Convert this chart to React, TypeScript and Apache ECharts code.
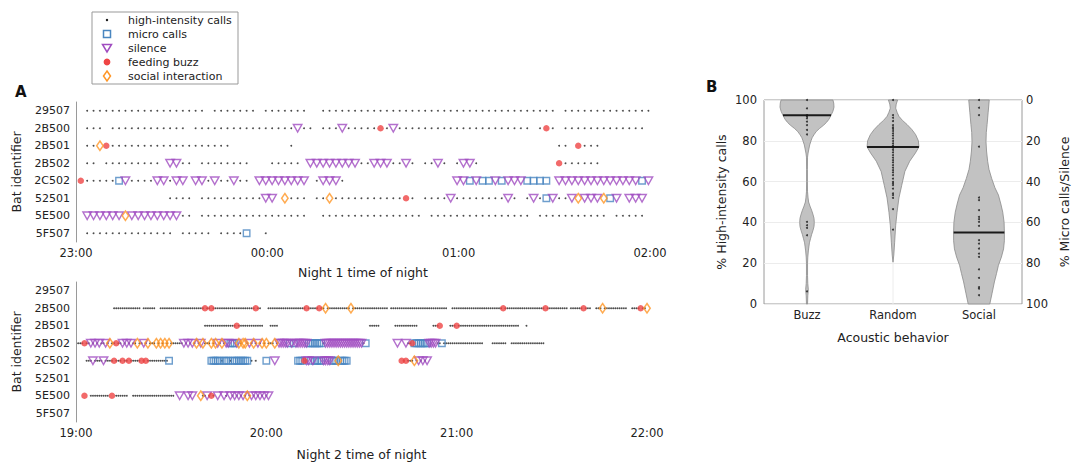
import React, { useEffect, useRef } from "react";
import * as echarts from "echarts";

// ---------------- data ----------------
const BATS = ["29507", "2B500", "2B501", "2B502", "2C502", "52501", "5E500", "5F507"];
const NIGHT1_TICKS = ["23:00", "00:00", "01:00", "02:00"];
const NIGHT2_TICKS = ["19:00", "20:00", "21:00", "22:00"];

// codes: "." high-intensity calls, "m" micro calls, "v" silence, "f" feeding buzz, "s" social interaction
// Night 1: one character per 2-minute record (groups of 10 records = 20 min), first record 1.5 min after 23:00
const N1_SLOT_MIN = 2;
const N1_FIRST_MIN = 1.5;
const N1_GROUP = 10;
const NIGHT1_ROWS: string[][] = [
  [" .........", "..........", " ....... .", "......  ..", "..........", "..........", "..........", "..... ....", ".........."],
  [" ... .....", "....... ..", "..........", "....v.. ..", ".v.....f.v", "..........", "..........", ". .f. ....", "........."],
  [" ..sf.....", "..........", "....", "   .", "", "", "", "     .. f.", ".."],
  [" .. ......", "... vv.. .", ".......", "..... vvvv", "vvvv..vvv.", ".v. ..v. .", "vv.", "     f....", ".."],
  ["f.....mv..", "..vv.vv vv", ".v..v.. vv", "vvvvvv .vv", "v.", "         v", "vmvmmvmvvv", "mmmm vvvvv", "vvvvvvvvmv"],
  ["", "    .... .", ".........v", "v s... ..s", "..........", ".f. ....v.", ".......v.", ".v.mv..vsv", "vvsmv vvv"],
  [" vvvvvvsvv", "vvvvvv.. .", "..........", "......  ..", "..........", ".... .....", "..........", ". ........", "... ....."],
  [" .........", "..... ....", ". ....m  ."],
];

// Night 2: one character per 40-second record (groups of 15 records = 10 min), from 19:00
const N2_SLOT_MIN = 2 / 3;
const N2_FIRST_MIN = 0;
const N2_GROUP = 15;
const NIGHT2_ROWS: string[][] = [
  [],
  ["", "   ............", ". ......  .....", "...............", ".f..f..........", "..........f..  ", " ..............", "....f.....f..s.", "..........s....", "............. .", "...............", "...........  ..", "...............", ".......f.......", "............f..", "........ ......", "f...  ...s.....", "......  ....f..", "s"],
  ["", "", "", "", " ..............", ".f............ ", "  ....", "", "", "    .....", " ...........", "    ...f    ...", "f..............", "...............", "   ."],
  [" ...f..v.v.v..v", ".s..f..v.v.v..s", "..v.s...s.s.s.s", "......v.v.v.s.v", "s...s.sv.s.vvmm", "mvs.ss.v.s.v.s.", "s...s.vvvvvmvmv", "vvvvvmmmmmmm.vv", "vvvvvvvvvvvvvvv", "v.m", "  v   v..fmmmmm", "mmvvvv..m......", ".............", "  .......  ....", "............"],
  ["     ...v....v.", "...f...f..f....", ".f.f..........m", "", "    mmmmm.mmm.m", "mmmmmmm . .", "m   v", "mmmfvvmvmmmmvvv", "vmmmsmmmm", "", "    f.f...s.v.v", ".v"],
  [],
  ["    f  ........", ". f ......  ...", "...............", "..  v   v.v   s", "..v.f. v  v. v.", "v.v.v.s.v.v.v.v", ".v"],
  [],
];

const MARKERS = [
  { code: ".", name: "high-intensity calls" },
  { code: "m", name: "micro calls" },
  { code: "v", name: "silence" },
  { code: "f", name: "feeding buzz" },
  { code: "s", name: "social interaction" },
];

// Panel B
const BEHAVIORS = ["Buzz", "Random", "Social"];
const VIOLIN_MEDIANS = [92.5, 77, 35];
// [percentage, relative density]
const VIOLIN_BUZZ = [[0, 0.02], [4, 0.03], [7, 0.05], [10, 0.03], [14, 0.02], [20, 0.02], [23, 0.03], [26, 0.05], [28, 0.07], [30, 0.09], [32, 0.13], [34, 0.17], [36, 0.22], [38, 0.26], [40, 0.27], [42, 0.26], [44, 0.22], [46, 0.17], [48, 0.11], [50, 0.06], [52, 0.04], [55, 0.02], [60, 0.015], [66, 0.015], [72, 0.02], [74, 0.04], [76, 0.07], [78, 0.1], [80, 0.15], [81.5, 0.19], [83, 0.26], [84.5, 0.34], [86, 0.46], [87.7, 0.62], [89, 0.72], [90.5, 0.81], [92.5, 0.89], [94.5, 0.96], [96.5, 1], [98.5, 0.99], [100, 0.96]];
const VIOLIN_RANDOM = [[20.5, 0], [24, 0.03], [30, 0.06], [38.6, 0.1], [45, 0.15], [52, 0.22], [58, 0.32], [65, 0.44], [70, 0.62], [74, 0.83], [77, 0.96], [80, 0.94], [83, 0.84], [85.5, 0.7], [88, 0.52], [90, 0.35], [92, 0.22], [94, 0.15], [96, 0.1], [98, 0.12], [100, 0.17]];
const VIOLIN_SOCIAL = [[0, 0.4], [5, 0.48], [10.8, 0.57], [15, 0.65], [19, 0.72], [23, 0.83], [27, 0.91], [31, 0.94], [35, 0.94], [40, 0.93], [45, 0.88], [49, 0.81], [53.4, 0.72], [57, 0.59], [61.5, 0.47], [66, 0.37], [70, 0.32], [75, 0.28], [79.5, 0.26], [84, 0.27], [88, 0.3], [94, 0.34], [100, 0.38]];
const VIOLINS = [VIOLIN_BUZZ, VIOLIN_RANDOM, VIOLIN_SOCIAL];
const BUZZ_POINTS = [100, 95.9, 92.6, 91.8, 91, 89.4, 87.7, 85.3, 83.1, 40.3, 38.6, 37.3, 33.7, 6.2];
const RANDOM_POINTS = [100, 92.6, 91.3, 89.7, 87.7, 86.6, 85.8, 84.8, 83.6, 82.5, 81.2, 79.9, 78.7, 77.6, 76.6, 75.5, 74.3, 73, 71.7, 70.5, 69.4, 68.1, 66.8, 65.6, 64.5, 63.2, 61.5, 59.9, 59.1, 58.3, 56.6, 54.2, 53.4, 52, 46.5, 36.5];
const SOCIAL_POINTS = [100, 96.2, 92.6, 77.1, 52.2, 50.9, 46, 42.7, 41.6, 40.3, 38.3, 31.3, 29.6, 27.2, 24.7, 23.1, 17, 12.8, 8.3, 7.5, 4.3];
const POINTS = [BUZZ_POINTS, RANDOM_POINTS, SOCIAL_POINTS];

// ---------------- styling ----------------
const FONT = "DejaVu Sans";
const TEXT = "#222";
const AXIS = "#9a9a9a";

const BLUE = "#4a86c0";
const PURPLE = "#a04cc0";
const RED = "#ef4545";
const ORANGE = "#ff9626";
const CLEAR = "rgba(255,255,255,0)";

const STYLE: Record<string, any> = {
  ".": { symbol: "circle", symbolSize: 1.9, itemStyle: { color: "#1f1f1f" } },
  m: { symbol: "rect", symbolSize: 6.5, itemStyle: { color: CLEAR, borderColor: BLUE, borderWidth: 1.4 } },
  v: { symbol: "triangle", symbolRotate: 180, symbolSize: [8.5, 7.5], itemStyle: { color: CLEAR, borderColor: PURPLE, borderWidth: 1.4 } },
  f: { symbol: "circle", symbolSize: 6.5, itemStyle: { color: RED } },
  s: { symbol: "diamond", symbolSize: [6.5, 9.5], itemStyle: { color: CLEAR, borderColor: ORANGE, borderWidth: 1.5 } },
};

function parseRows(rows: string[][], size: number): string[][] {
  return rows.map((groups) => groups.flatMap((g) => g.padEnd(size, " ").slice(0, size).split("")));
}

function collect(rows: string[][], first: number, step: number, code: string) {
  const out: number[][] = [];
  rows.forEach((slots, r) =>
    slots.forEach((c, i) => {
      if (c === code) out.push([first + i * step, r]);
    })
  );
  return out;
}

function interp(prof: number[][], v: number) {
  for (let i = 1; i < prof.length; i++) {
    if (v <= prof[i][0]) {
      const [v0, d0] = prof[i - 1];
      const [v1, d1] = prof[i];
      return d0 + ((v - v0) / (v1 - v0)) * (d1 - d0);
    }
  }
  return prof[prof.length - 1][1];
}

function buildOption() {
  const n1 = parseRows(NIGHT1_ROWS, N1_GROUP);
  const n2 = parseRows(NIGHT2_ROWS, N2_GROUP);
  const axisText = { color: TEXT, fontFamily: FONT, fontSize: 11 };
  const nameText = { color: TEXT, fontFamily: FONT, fontSize: 12.5 };

  const timeAxis = (grid: number, ticks: string[], name: string, gap: number) => ({
    gridIndex: grid,
    type: "value",
    min: 0,
    max: 180,
    interval: 60,
    axisLine: { lineStyle: { color: AXIS } },
    axisTick: { inside: true, length: 6, lineStyle: { color: AXIS } },
    splitLine: { show: false },
    axisLabel: { ...axisText, fontSize: 11.5, margin: 5, formatter: (v: number) => ticks[Math.round(v / 60)] },
    name,
    nameLocation: "middle",
    nameGap: gap,
    nameTextStyle: nameText,
  });
  const batAxis = (grid: number) => ({
    gridIndex: grid,
    type: "category",
    data: BATS,
    inverse: true,
    axisLine: { lineStyle: { color: AXIS } },
    axisTick: { alignWithLabel: true, length: 4, lineStyle: { color: AXIS } },
    axisLabel: { ...axisText, margin: 6 },
    name: "Bat identifier",
    nameLocation: "middle",
    nameGap: 47,
    nameRotate: 90,
    nameTextStyle: nameText,
  });

  const series: any[] = [];
  [
    { rows: n1, first: N1_FIRST_MIN, step: N1_SLOT_MIN, axis: 0 },
    { rows: n2, first: N2_FIRST_MIN, step: N2_SLOT_MIN, axis: 1 },
  ].forEach((p) => {
    MARKERS.forEach((m) => {
      series.push({
        type: "scatter",
        name: m.name,
        xAxisIndex: p.axis,
        yAxisIndex: p.axis,
        silent: true,
        ...STYLE[m.code],
        data: collect(p.rows, p.first, p.step, m.code),
      });
    });
  });

  series.push({
    type: "custom",
    xAxisIndex: 2,
    yAxisIndex: 2,
    silent: true,
    data: VIOLIN_MEDIANS.map((m, i) => [i, m]),
    encode: { x: 0, y: 1 },
    renderItem: (params: any, api: any) => {
      const ci = api.value(0);
      const prof = VIOLINS[ci];
      const cx = api.coord([ci, 0])[0];
      const band = api.size([1, 0])[0];
      const k = band * 0.314;
      const right = prof.map(([v, d]) => [cx + d * k, api.coord([ci, v])[1]]);
      const left = prof.map(([v, d]) => [cx - d * k, api.coord([ci, v])[1]]).reverse();
      const med = VIOLIN_MEDIANS[ci];
      const dm = interp(prof, med);
      const my = api.coord([ci, med])[1];
      const y0 = api.coord([ci, 0])[1];
      const y1 = api.coord([ci, 100])[1];
      return {
        type: "group",
        children: [
          { type: "line", shape: { x1: cx, y1: y0, x2: cx, y2: y1 }, style: { stroke: "#ececec", lineWidth: 1 } },
          { type: "polygon", shape: { points: right.concat(left) }, style: { fill: "#c2c2c2", stroke: "#8a8a8a", lineWidth: 0.8 } },
          { type: "line", shape: { x1: cx - dm * k, y1: my, x2: cx + dm * k, y2: my }, style: { stroke: "#1a1a1a", lineWidth: 2 } },
        ],
      };
    },
  });
  series.push({
    type: "scatter",
    xAxisIndex: 2,
    yAxisIndex: 2,
    silent: true,
    symbol: "circle",
    symbolSize: 2,
    itemStyle: { color: "#111" },
    data: POINTS.flatMap((pts, i) => pts.map((v) => [i, v])),
  });

  const legendY = [20, 34, 48, 62, 76];
  const sx = 107;
  const legendSymbols: any[] = [
    { type: "circle", shape: { cx: sx, cy: legendY[0], r: 1.2 }, style: { fill: "#111" } },
    { type: "rect", shape: { x: sx - 3.5, y: legendY[1] - 3.5, width: 7, height: 7 }, style: { fill: "#fff", stroke: BLUE, lineWidth: 1.5 } },
    { type: "polygon", shape: { points: [[sx - 4.5, legendY[2] - 3.5], [sx + 4.5, legendY[2] - 3.5], [sx, legendY[2] + 4]] }, style: { fill: "#fff", stroke: PURPLE, lineWidth: 1.5 } },
    { type: "circle", shape: { cx: sx, cy: legendY[3], r: 3.4 }, style: { fill: RED } },
    { type: "polygon", shape: { points: [[sx, legendY[4] - 5], [sx + 3.5, legendY[4]], [sx, legendY[4] + 5], [sx - 3.5, legendY[4]]] }, style: { fill: "#fff", stroke: ORANGE, lineWidth: 1.5 } },
  ];
  const legendTexts = MARKERS.map((m, i) => ({
    type: "text",
    x: 128,
    y: legendY[i],
    style: { text: m.name, fill: TEXT, font: `11px "${FONT}"`, textVerticalAlign: "middle", verticalAlign: "middle" },
  }));

  return {
    animation: false,
    backgroundColor: "#fff",
    grid: [
      { left: 76, right: 433, top: 102, height: 140, outerBoundsMode: "none" },
      { left: 76, right: 436, top: 282, height: 140, outerBoundsMode: "none" },
      { left: 764, right: 61, top: 100, height: 204, show: true, borderColor: AXIS, borderWidth: 1, backgroundColor: "transparent", outerBoundsMode: "none" },
    ],
    xAxis: [
      timeAxis(0, NIGHT1_TICKS, "Night 1 time of night", 24),
      timeAxis(1, NIGHT2_TICKS, "Night 2 time of night", 26),
      {
        gridIndex: 2,
        type: "category",
        data: BEHAVIORS,
        axisLine: { show: false },
        axisTick: { show: false },
        splitLine: { show: false },
        axisLabel: { ...axisText, fontSize: 11.5, margin: 5 },
        name: "Acoustic behavior",
        nameLocation: "middle",
        nameGap: 27,
        nameTextStyle: nameText,
      },
    ],
    yAxis: [
      batAxis(0),
      batAxis(1),
      {
        gridIndex: 2,
        type: "value",
        min: 0,
        max: 100,
        interval: 20,
        axisLine: { show: false },
        axisTick: { show: false },
        splitLine: { show: true, lineStyle: { color: "#ececec" } },
        axisLabel: { ...axisText, fontSize: 11.5, margin: 7 },
        name: "% High-intensity calls",
        nameLocation: "middle",
        nameGap: 36,
        nameRotate: 90,
        nameTextStyle: nameText,
      },
      {
        gridIndex: 2,
        type: "value",
        position: "right",
        inverse: true,
        min: 0,
        max: 100,
        interval: 20,
        axisLine: { show: false },
        axisTick: { show: false },
        splitLine: { show: false },
        axisLabel: { ...axisText, fontSize: 11.5, margin: 4 },
        name: "% Micro calls/Silence",
        nameLocation: "middle",
        nameGap: 36,
        nameRotate: 90,
        nameTextStyle: nameText,
      },
    ],
    graphic: [
      { type: "rect", shape: { x: 92, y: 12, width: 146, height: 72 }, style: { fill: "#fff", stroke: "#999", lineWidth: 1 } },
      ...legendSymbols,
      ...legendTexts,
      { type: "text", x: 15, y: 92, style: { text: "A", fill: "#111", font: `bold 15px "${FONT}"`, textVerticalAlign: "middle", verticalAlign: "middle" } },
      { type: "text", x: 706, y: 87, style: { text: "B", fill: "#111", font: `bold 15px "${FONT}"`, textVerticalAlign: "middle", verticalAlign: "middle" } },
    ],
    series,
  };
}

export default function App() {
  const ref = useRef<HTMLDivElement>(null);
  useEffect(() => {
    if (!ref.current) return;
    const chart = echarts.init(ref.current, undefined, { renderer: "svg" });
    chart.setOption(buildOption() as any);
    return () => chart.dispose();
  }, []);
  return <div ref={ref} style={{ position: "fixed", left: 0, top: 0, width: 1083, height: 462, background: "#fff" }} />;
}
